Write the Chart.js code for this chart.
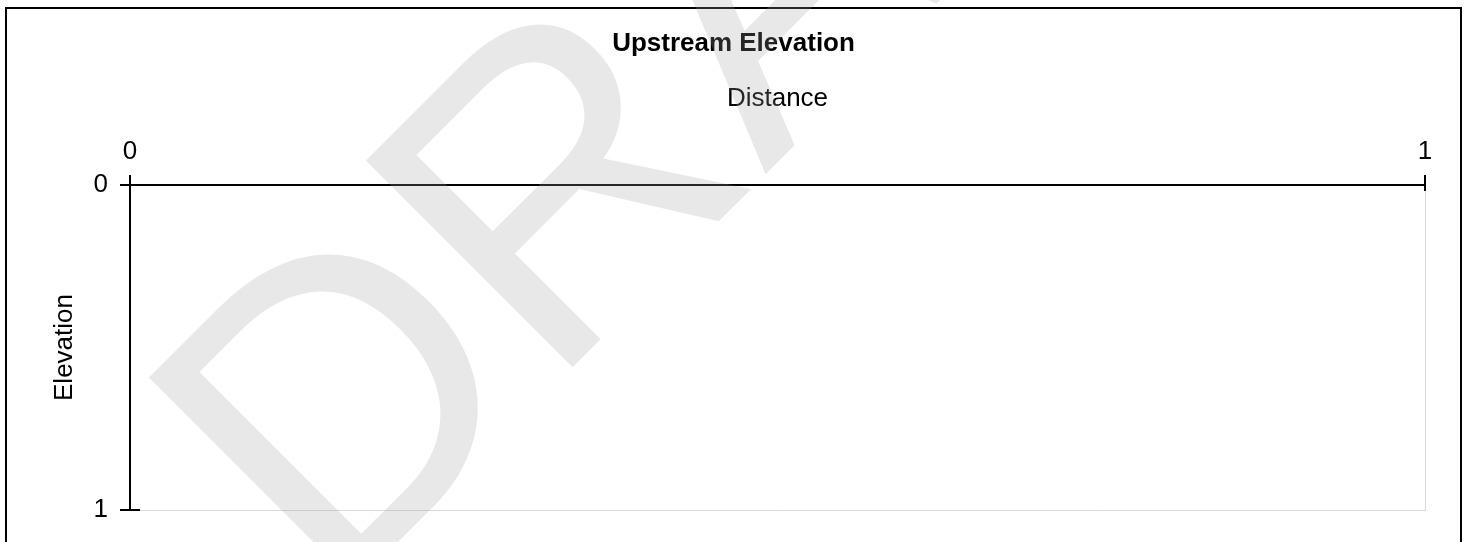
<!DOCTYPE html>
<html lang="en">
<head>
<meta charset="UTF-8">
<title>Upstream Elevation</title>
<script src="https://cdn.jsdelivr.net/npm/chart.js"></script>
<style>
  body { margin: 0; background: #fff; }
  #wrap { width: 1467px; height: 542px; }
</style>
</head>
<body>

<div id="wrap"><canvas id="elevationChart" width="1467" height="542"></canvas></div>

<script>
  // profile has no surveyed points yet, so the series are empty
  const distance = [];
  const elevation = [];
  const xTickValues = [0, 1];
  const yTickValues = [0, 1];
  const chartTitle = 'Upstream Elevation';
  const xTitle = 'Distance';
  const yTitle = 'Elevation';
  const watermark = 'DRAFT';

  const points = distance.map((d, i) => ({x: d, y: elevation[i]}));
  const font = {family: '"Liberation Sans", Arial, sans-serif', size: 26};

  // page frame, grey plot edges, inner half of the ticks and the draft stamp
  const framePlugin = {
    id: 'frame',
    beforeDraw(chart) {
      const ctx = chart.ctx;
      const a = chart.chartArea;
      ctx.save();
      ctx.strokeStyle = '#000';
      ctx.lineWidth = 2;
      ctx.strokeRect(6, 8, 1455, 560);
      ctx.strokeStyle = '#d9d9d9';
      ctx.lineWidth = 1;
      ctx.beginPath();
      ctx.moveTo(a.right + 0.5, a.top);
      ctx.lineTo(a.right + 0.5, a.bottom + 0.5);
      ctx.lineTo(a.left, a.bottom + 0.5);
      ctx.stroke();
      ctx.restore();
    },
    afterDraw(chart) {
      const ctx = chart.ctx;
      const a = chart.chartArea;
      const xs = chart.scales.x;
      const ys = chart.scales.y;
      ctx.save();
      ctx.strokeStyle = '#000';
      ctx.lineWidth = 2;
      ctx.beginPath();
      xTickValues.forEach(v => {
        const px = Math.round(xs.getPixelForValue(v));
        ctx.moveTo(px, a.top);
        ctx.lineTo(px, a.top + 6);
      });
      yTickValues.forEach(v => {
        const py = Math.round(ys.getPixelForValue(v));
        ctx.moveTo(a.left, py);
        ctx.lineTo(a.left + 10, py);
      });
      ctx.stroke();

      ctx.translate(331, 609);
      ctx.rotate(-Math.PI / 4);
      ctx.font = '425px "Liberation Sans", Arial, sans-serif';
      ctx.fillStyle = 'rgba(160, 160, 160, 0.24)';
      ctx.textAlign = 'left';
      ctx.textBaseline = 'alphabetic';
      ctx.fillText(watermark, 0, 0);
      ctx.restore();
    }
  };

  const ctx = document.getElementById('elevationChart').getContext('2d');
  new Chart(ctx, {
    type: 'scatter',
    data: {
      datasets: [{
        label: 'Elevation',
        data: points,
        borderColor: '#000',
        backgroundColor: '#000',
        showLine: true
      }]
    },
    options: {
      responsive: false,
      animation: false,
      layout: {padding: {left: 0, right: 0, top: 0, bottom: 32}},
      plugins: {
        legend: {display: false},
        tooltip: {enabled: false},
        title: {
          display: true,
          text: chartTitle,
          color: '#000',
          font: {family: font.family, size: 26, weight: 'bold'},
          padding: {top: 27.9, bottom: 0}
        }
      },
      scales: {
        x: {
          type: 'linear',
          position: 'top',
          min: 0,
          max: 1,
          afterBuildTicks: s => { s.ticks = xTickValues.map(v => ({value: v})); },
          afterFit: s => { s.height = 125.9; },
          ticks: {color: '#000', font: font, padding: 8, maxRotation: 0},
          grid: {display: true, drawOnChartArea: false, drawTicks: true, tickLength: 10, color: '#000', lineWidth: 2},
          border: {display: true, color: '#000', width: 2},
          title: {display: true, text: xTitle, color: '#000', font: font, padding: {top: 24.3, bottom: 0}}
        },
        y: {
          type: 'linear',
          position: 'left',
          reverse: true,
          min: 0,
          max: 1,
          afterBuildTicks: s => { s.ticks = yTickValues.map(v => ({value: v})); },
          afterFit: s => { s.width = 130; },
          ticks: {color: '#000', font: font, padding: 12},
          grid: {display: true, drawOnChartArea: false, drawTicks: true, tickLength: 10, color: '#000', lineWidth: 2},
          border: {display: true, color: '#000', width: 2},
          title: {display: true, text: yTitle, color: '#000', font: font, padding: {top: 49.4, bottom: 0}}
        },
        yRight: {
          type: 'linear',
          position: 'right',
          display: true,
          afterFit: s => { s.width = 42; },
          ticks: {display: false},
          grid: {display: false},
          border: {display: false}
        }
      }
    },
    plugins: [framePlugin]
  });
</script>

</body>
</html>
